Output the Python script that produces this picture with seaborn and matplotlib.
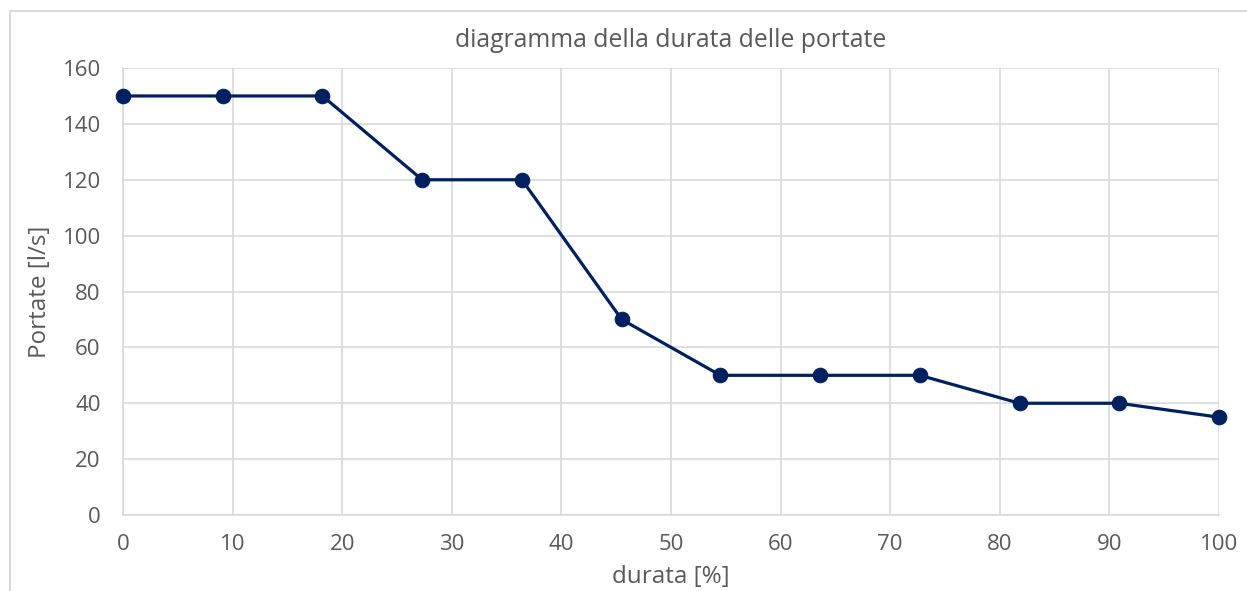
import matplotlib
matplotlib.use("Agg")
import matplotlib.pyplot as plt
import pandas as pd
import seaborn as sns
from matplotlib.patches import Rectangle

# data
durata = [0, 9.1, 18.2, 27.3, 36.4, 45.5, 54.5, 63.6, 72.7, 81.8, 90.9, 100]
portate = [150, 150, 150, 120, 120, 70, 50, 50, 50, 40, 40, 35]
x_ticks = [0, 10, 20, 30, 40, 50, 60, 70, 80, 90, 100]
y_ticks = [0, 20, 40, 60, 80, 100, 120, 140, 160]

df = pd.DataFrame({"durata": durata, "portate": portate})

sns.set_style("white")
plt.rcParams["font.family"] = ["Open Sans", "DejaVu Sans"]

fig = plt.figure(figsize=(12.47, 5.91), dpi=100)
ax = fig.add_axes([0.0986, 0.1286, 0.8790, 0.7563])

# outer chart frame (Excel style), running off the right and bottom edges
fig.patches.append(Rectangle((10 / 1247, -0.1), 1.2, 1 - 11 / 591 + 0.1,
                             transform=fig.transFigure, fill=False,
                             edgecolor="#d9d9d9", linewidth=1.5))

sns.lineplot(data=df, x="durata", y="portate", ax=ax, color="#002060",
             linewidth=2.3, marker="o", markersize=10.5,
             markeredgecolor="#002060", clip_on=False, zorder=5)

ax.set_xlim(0, 100)
ax.set_ylim(0, 160)
ax.set_xticks(x_ticks)
ax.set_yticks(y_ticks)
ax.grid(True, color="#d9d9d9", linewidth=1.2)
ax.set_axisbelow(True)
for side in ["top", "right", "left", "bottom"]:
    ax.spines[side].set_color("#d9d9d9")
    ax.spines[side].set_linewidth(1.2)
ax.spines["top"].set_visible(False)
ax.spines["right"].set_visible(False)

ax.tick_params(axis="x", length=0, labelsize=16, labelcolor="#595959", pad=14)
ax.tick_params(axis="y", length=0, labelsize=16, labelcolor="#595959", pad=16)
ax.set_xlabel("durata [%]", fontsize=17.5, color="#595959", va="center")
ax.xaxis.set_label_coords(0.5, -0.139)
ax.set_ylabel("Portate [l/s]", fontsize=17.5, color="#595959", va="center")
ax.yaxis.set_label_coords(-0.0757, 0.5)
ax.set_title("diagramma della durata delle portate", fontsize=17.8,
             color="#595959", y=1.0626, va="center", pad=0)

plt.savefig("out.png", dpi=100)
